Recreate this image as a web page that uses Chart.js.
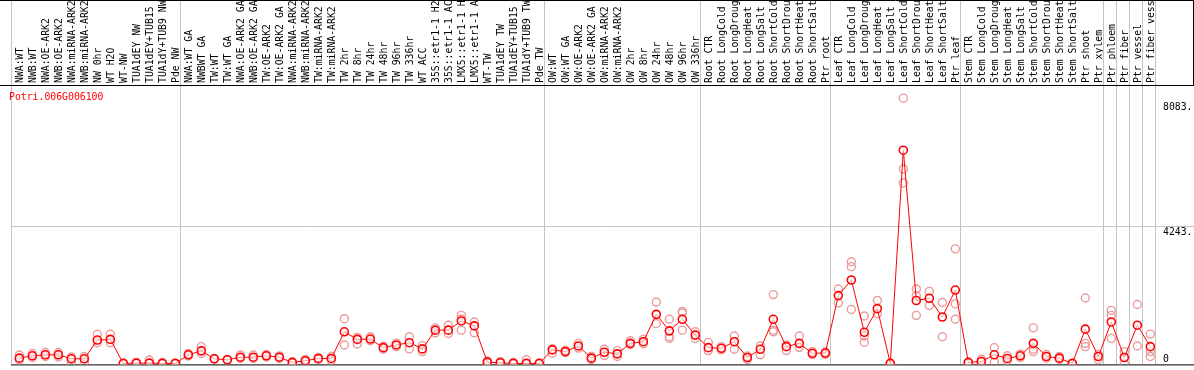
<!DOCTYPE html>
<html>
<head>
<meta charset="utf-8">
<script src="https://cdn.jsdelivr.net/npm/chart.js@4"></script>
<style>
html,body{margin:0;padding:0;background:#fff;}
#wrap{position:relative;width:1194px;height:370px;}
</style>
</head>
<body>
<div id="wrap"><canvas id="c"></canvas></div>
<script>
const geneName = "Potri.006G006100";
const categories = [
"NWA:WT","NWB:WT","NWA:OE-ARK2","NWB:OE-ARK2","NWA:miRNA-ARK2","NWB:miRNA-ARK2","NW 0hr","WT H2O","WT-NW","TUA1dEY NW","TUA1dEY+TUB15 NW","TUA1dY+TUB9 NW","Pde NW",
"NWA:WT GA","NWBWT GA","TW:WT","TW:WT GA","NWA:OE-ARK2 GA","NWB:OE-ARK2 GA","TW:OE-ARK2","TW:OE-ARK2 GA","NWA:miRNA-ARK2","NWB:miRNA-ARK2","TW:miRNA-ARK2","TW:miRNA-ARK2","TW 2hr","TW 8hr","TW 24hr","TW 48hr","TW 96hr","TW 336hr","WT ACC","35S::etr1-1 H2O","35S::etr1-1 ACC","LMX5::etr1-1 H2O","LMX5::etr1-1 ACC","WT-TW","TUA1dEY TW","TUA1dEY+TUB15 TW","TUA1dY+TUB9 TW","Pde TW",
"OW:WT","OW:WT GA","OW:OE-ARK2","OW:OE-ARK2 GA","OW:miRNA-ARK2","OW:miRNA-ARK2","OW 2hr","OW 8hr","OW 24hr","OW 48hr","OW 96hr","OW 336hr",
"Root CTR","Root LongCold","Root LongDrought","Root LongHeat","Root LongSalt","Root ShortCold","Root ShortDrought","Root ShortHeat","Root ShortSalt","Ptr root",
"Leaf CTR","Leaf LongCold","Leaf LongDrought","Leaf LongHeat","Leaf LongSalt","Leaf ShortCold","Leaf ShortDrought","Leaf ShortHeat","Leaf ShortSalt","Ptr leaf",
"Stem CTR","Stem LongCold","Stem LongDrought","Stem LongHeat","Stem LongSalt","Stem ShortCold","Stem ShortDrought","Stem ShortHeat","Stem ShortSalt","Ptr shoot","Ptr xylem",
"Ptr phloem","Ptr fiber","Ptr vessel","Ptr fiber vessel"
];
// index of the first category of each group (separator lines)
const groupStarts = [0,13,41,53,63,73,84,85,86,87,88];
const meanValues = [
162,235,266,266,143,143,724,742,0,10,10,0,0,
266,388,143,113,192,192,235,192,31,82,153,153,977,742,754,488,571,641,449,1029,1029,1313,1160,40,21,0,0,0,
418,366,540,162,345,296,620,672,1517,1007,1365,876,
488,467,672,183,437,1365,519,620,314,320,
2097,2580,962,1694,0,6594,1945,2015,1435,2268,
31,61,266,153,235,620,214,162,0,1059,214,
1282,183,1181,519
];
const rep1 = [
260,305,336,336,198,214,901,901,0,31,107,31,0,
305,519,153,122,260,260,275,229,15,122,183,214,1383,803,824,534,626,824,550,1099,1181,1487,1282,76,61,31,113,0,
314,412,620,214,437,397,702,742,1893,1365,1609,977,
650,519,846,229,540,2128,571,846,366,351,
2299,3145,1465,1945,0,8203,2299,2229,1884,3541,
31,131,488,235,296,1099,275,214,0,2024,275,
1640,366,1823,907
];
const rep2 = [
107,183,214,198,31,31,641,641,0,0,0,0,0,
229,305,133,107,153,153,198,153,45,46,122,92,571,601,702,443,519,449,366,946,925,1374,946,0,0,0,0,0,
458,336,473,122,244,214,580,611,1230,824,1557,773,
397,418,437,122,266,1029,397,498,275,275,
1871,2992,846,1536,0,6014,2097,1792,824,1841,
0,31,40,92,183,437,162,122,0,620,113,
1487,0,540,366
];
const rep3 = [
null,null,null,null,null,null,null,null,null,null,null,null,null,
null,null,null,null,null,null,null,null,null,null,null,null,null,null,null,null,null,null,null,null,null,1029,null,null,null,null,null,null,
null,null,null,null,null,null,null,null,null,773,1029,null,
null,null,null,null,null,977,null,null,null,null,
null,1670,650,null,null,5578,1487,null,null,1365,
null,null,null,null,null,366,null,null,null,519,null,
773,null,null,214
];
const yTickValues = [0, 4243, 8083];
const yTickLabels = ["0", "4243.", "8083."];

const FONT = "9.8px 'DejaVu Sans Mono'";
const RED = "#ff0000";
const PINK = "#ec9a9a";
const GRAY = "#c4c4c4";

const mainPts = meanValues.map((v, i) => ({x: i, y: v}));
const repPts = [];
[rep1, rep2, rep3].forEach(arr => arr.forEach((v, i) => { if (v !== null) repPts.push({x: i, y: v}); }));

const decor = {
  id: 'decor',
  beforeDatasetsDraw(chart) {
    const ctx = chart.ctx, ca = chart.chartArea, xs = chart.scales.x, ys = chart.scales.y;
    ctx.save();
    ctx.lineWidth = 1;
    ctx.strokeStyle = GRAY;
    groupStarts.forEach(g => {
      const x = Math.round(xs.getPixelForValue(g - 0.64)) + 0.5;
      ctx.beginPath(); ctx.moveTo(x, 0); ctx.lineTo(x, ca.bottom); ctx.stroke();
    });
    const yg = Math.round(ys.getPixelForValue(yTickValues[1])) + 0.5;
    ctx.beginPath(); ctx.moveTo(ca.left, yg); ctx.lineTo(chart.width, yg); ctx.stroke();
    ctx.strokeStyle = "#000";
    ctx.beginPath(); ctx.moveTo(0, ca.top + 0.5); ctx.lineTo(chart.width, ca.top + 0.5); ctx.stroke();
    ctx.beginPath(); ctx.moveTo(ca.left, ca.bottom + 0.5); ctx.lineTo(chart.width, ca.bottom + 0.5); ctx.stroke();
    ctx.beginPath(); ctx.moveTo(0, 0.5); ctx.lineTo(chart.width, 0.5); ctx.stroke();
    ctx.beginPath(); ctx.moveTo(chart.width - 0.5, 0); ctx.lineTo(chart.width - 0.5, ca.top); ctx.stroke();
    ctx.fillStyle = "#000";
    ctx.font = FONT;
    ctx.textAlign = "left";
    yTickValues.forEach((v, k) => {
      const y = ys.getPixelForValue(v);
      if (v === 0) { ctx.textBaseline = "alphabetic"; ctx.fillText(yTickLabels[k], ca.right + 8, y - 1); }
      else { ctx.textBaseline = "top"; ctx.fillText(yTickLabels[k], ca.right + 8, y + 1); }
    });
    ctx.fillStyle = RED;
    ctx.textBaseline = "middle";
    ctx.fillText(geneName, 9, 97);
    ctx.restore();
  }
};

new Chart(document.getElementById('c'), {
  type: 'line',
  data: {
    datasets: [
      {
        label: 'mean', data: mainPts, borderColor: RED, borderWidth: 1,
        pointRadius: 4, pointBorderWidth: 1.6, pointBorderColor: RED, pointBackgroundColor: 'rgba(255,255,255,0.6)',
        tension: 0, fill: false
      },
      {
        label: 'replicates', data: repPts, showLine: false,
        pointRadius: 4, pointBorderWidth: 1.4, pointBorderColor: PINK, pointBackgroundColor: 'rgba(0,0,0,0)'
      }
    ]
  },
  options: {
    responsive: true, maintainAspectRatio: false, devicePixelRatio: 1, animation: false,
    layout: { padding: { left: 11, right: 39, top: 0, bottom: 2 } },
    plugins: { legend: { display: false }, tooltip: { enabled: false }, title: { display: false } },
    scales: {
      x: {
        type: 'linear', position: 'top', min: -0.64, max: 87.36,
        grid: { display: false, drawTicks: false }, border: { display: false },
        afterBuildTicks: s => { s.ticks = categories.map((_, i) => ({ value: i })); },
        afterFit: s => { s.height = 85; },
        ticks: {
          autoSkip: false, minRotation: 90, maxRotation: 90, padding: 2, labelOffset: 13, color: '#000',
          font: { family: 'DejaVu Sans Mono', size: 9.8 },
          callback: v => categories[v] !== undefined ? categories[v] : ''
        }
      },
      y: { type: 'linear', min: -30.5, max: 8609.5, display: false }
    }
  },
  plugins: [decor]
});
</script>
</body>
</html>
